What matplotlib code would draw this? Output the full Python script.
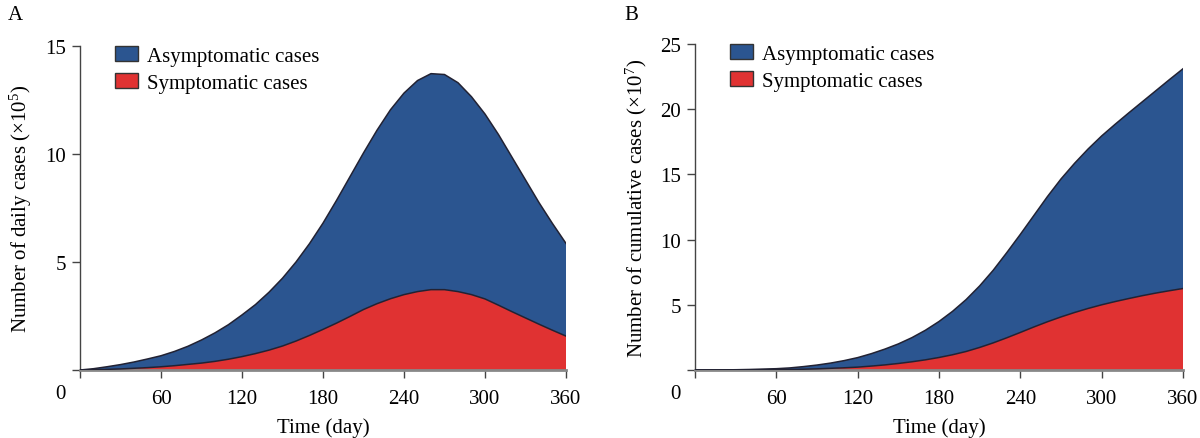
import matplotlib
matplotlib.use("Agg")
import matplotlib.pyplot as plt
import numpy as np
from matplotlib.patches import Patch

plt.rcParams['font.family'] = ['Liberation Serif', 'DejaVu Serif']
plt.rcParams['mathtext.fontset'] = 'custom'
plt.rcParams['mathtext.rm'] = 'Liberation Serif'
plt.rcParams['mathtext.it'] = 'Liberation Serif:italic'

days = [0, 10, 20, 30, 40, 50, 60, 70, 80, 90, 100, 110, 120, 130, 140, 150,
        160, 170, 180, 190, 200, 210, 220, 230, 240, 250, 260, 270, 280, 290,
        300, 310, 320, 330, 340, 350, 360]

# Panel A: daily cases (x10^5); top of the stack and the symptomatic part
daily_total = [0.00, 0.06, 0.15, 0.25, 0.37, 0.51, 0.66, 0.86, 1.10, 1.39, 1.72,
               2.10, 2.55, 3.03, 3.60, 4.25, 5.00, 5.85, 6.80, 7.85, 8.95, 10.05,
               11.1, 12.05, 12.82, 13.4, 13.72, 13.68, 13.3, 12.65, 11.85, 10.9,
               9.85, 8.8, 7.75, 6.78, 5.86]
daily_symptomatic = [0.00, 0.01, 0.03, 0.05, 0.08, 0.11, 0.15, 0.20, 0.26, 0.32,
                     0.40, 0.50, 0.62, 0.76, 0.92, 1.11, 1.34, 1.60, 1.88, 2.17,
                     2.48, 2.80, 3.07, 3.30, 3.49, 3.63, 3.72, 3.72, 3.63, 3.49,
                     3.29, 3.00, 2.70, 2.41, 2.12, 1.84, 1.57]

# Panel B: cumulative cases (x10^7)
cum_total = [0.00, 0.005, 0.01, 0.02, 0.04, 0.07, 0.10, 0.16, 0.26, 0.38, 0.53,
             0.72, 0.95, 1.25, 1.60, 2.00, 2.48, 3.05, 3.72, 4.50, 5.40, 6.45,
             7.65, 9.00, 10.4, 11.85, 13.3, 14.65, 15.85, 16.95, 17.95, 18.85,
             19.72, 20.57, 21.42, 22.27, 23.1]
cum_symptomatic = [0.00, 0.00, 0.00, 0.01, 0.01, 0.02, 0.03, 0.04, 0.06, 0.09,
                   0.13, 0.17, 0.22, 0.30, 0.39, 0.50, 0.63, 0.78, 0.96, 1.17,
                   1.42, 1.73, 2.08, 2.47, 2.88, 3.30, 3.70, 4.07, 4.41, 4.72,
                   5.00, 5.25, 5.48, 5.70, 5.90, 6.08, 6.25]

x_ticks = [0, 60, 120, 180, 240, 300, 360]
x_ticklabels = ['', '60', '120', '180', '240', '300', '360']

BLUE = '#2B5590'
RED = '#E03232'
EDGE = '#222233'
FS = 15

fig = plt.figure(figsize=(12, 4.39), dpi=100)


def panel(rect, total, symp, yticks, ylim, ylabel, letter, letter_xy):
    ax = fig.add_axes(rect)
    d = np.array(days)
    t = np.array(total)
    s = np.array(symp)
    ax.fill_between(d, 0, s, facecolor=RED, edgecolor='none', zorder=2)
    ax.fill_between(d, s, t, facecolor=BLUE, edgecolor='none', zorder=2)
    ax.plot(d, t, color=EDGE, lw=1.1, zorder=3)
    ax.plot(d, s, color=EDGE, lw=1.1, zorder=3)
    ax.set_xlim(0, 360)
    ax.set_ylim(0, ylim)
    ax.set_xticks(x_ticks)
    ax.set_xticklabels(x_ticklabels, fontsize=FS)
    ax.set_yticks([0] + list(yticks))
    ax.set_yticklabels([''] + [str(v) for v in yticks], fontsize=FS)
    for sp in ['top', 'right']:
        ax.spines[sp].set_visible(False)
    ax.spines['left'].set_color('#444444')
    ax.spines['bottom'].set_color('#888888')
    ax.spines['bottom'].set_linewidth(2.0)
    ax.spines['left'].set_linewidth(1.0)
    ax.tick_params(axis='both', direction='out', length=6, width=1.0,
                   color='#444444', pad=8)
    ax.tick_params(axis='y', pad=4)
    ax.set_xlabel('Time (day)', fontsize=FS, labelpad=6)
    ax.set_ylabel(ylabel, fontsize=FS, labelpad=8)
    h_px = rect[3] * 439
    w_px = rect[2] * 1200
    ax.text(-20 / w_px, -24 / h_px, '0', transform=ax.transAxes, fontsize=FS,
            ha='center', va='center')
    handles = [Patch(facecolor=BLUE, edgecolor='#333333', label='Asymptomatic cases'),
               Patch(facecolor=RED, edgecolor='#333333', label='Symptomatic cases')]
    ax.legend(handles=handles, loc='upper left', bbox_to_anchor=(35 / w_px, 1.0),
              frameon=False, fontsize=FS, handlelength=1.1, handleheight=0.72,
              handletextpad=0.45, labelspacing=0.35, borderaxespad=0.0,
              borderpad=0.0)
    fig.text(letter_xy[0], letter_xy[1], letter, fontsize=FS, ha='left', va='top')
    return ax


panel([80 / 1200, 68 / 439, 486 / 1200, 324 / 439], daily_total, daily_symptomatic,
      [5, 10, 15], 15, 'Number of daily cases (×10$^{5}$)', 'A', (8 / 1200, 1 - 6 / 439))
panel([695 / 1200, 68 / 439, 488 / 1200, 326 / 439], cum_total, cum_symptomatic,
      [5, 10, 15, 20, 25], 25, 'Number of cumulative cases (×10$^{7}$)', 'B',
      (624 / 1200, 1 - 6 / 439))

fig.savefig('out.png', dpi=100)
